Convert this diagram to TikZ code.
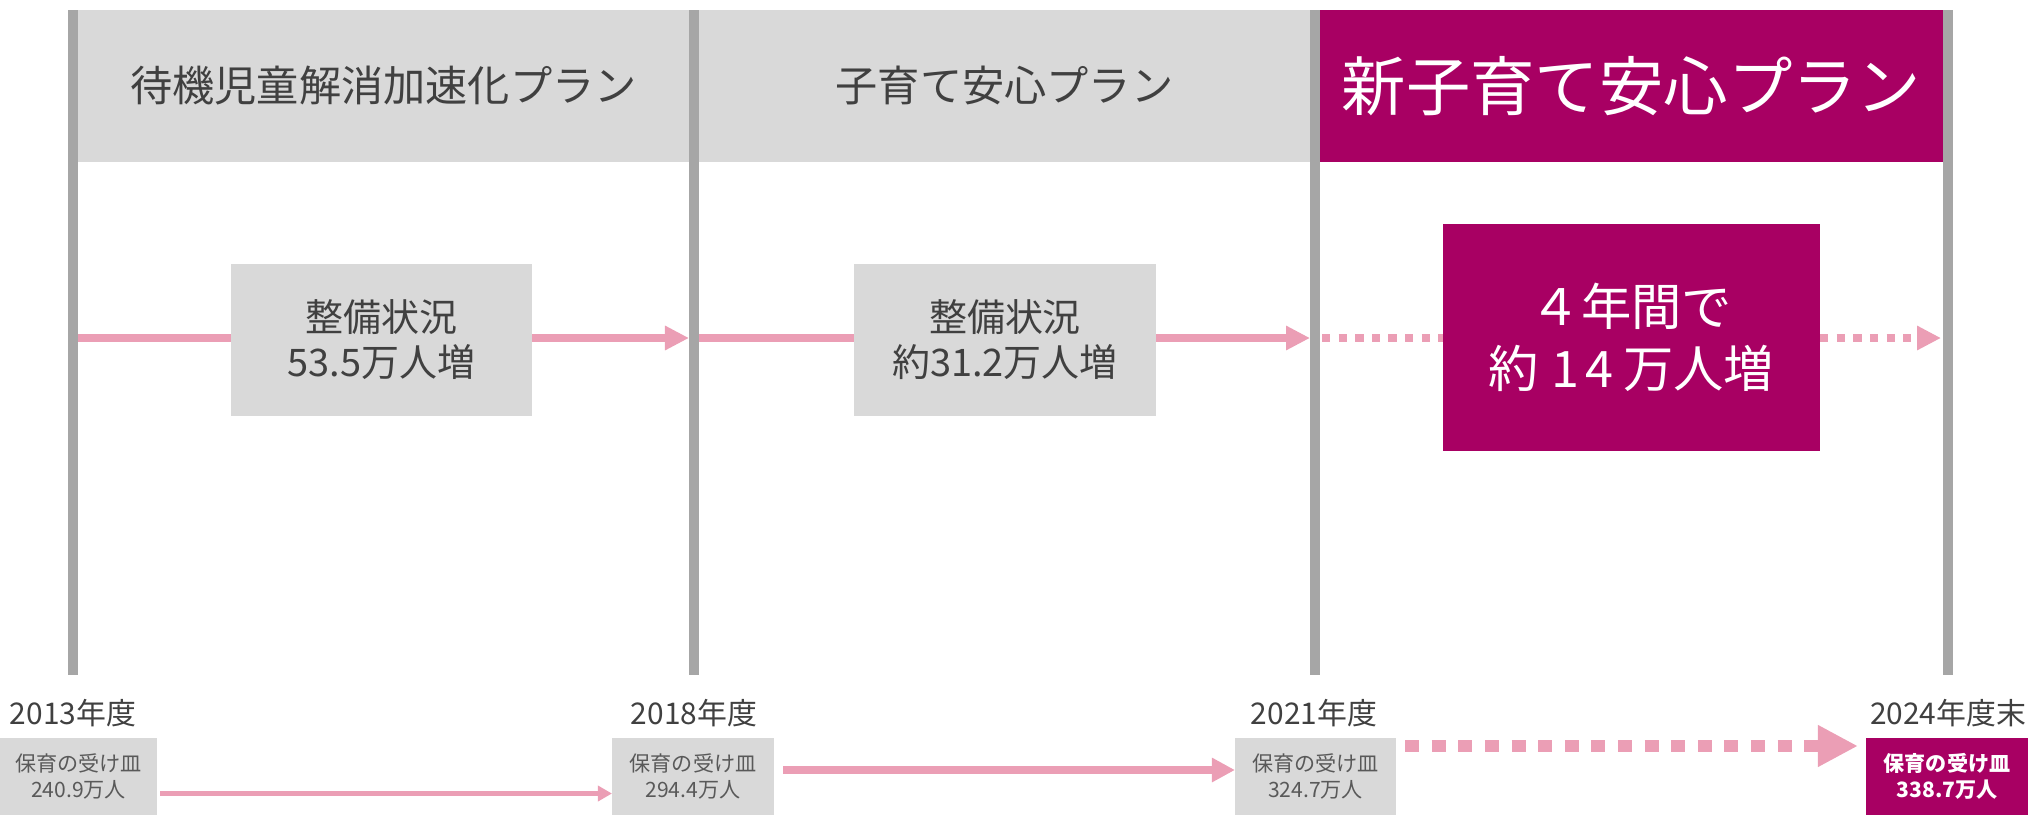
\documentclass[tikz,border=0pt]{standalone}
\usepackage{fontspec}
\newfontfamily\jp{Noto Sans CJK JP}
\usetikzlibrary{positioning,arrows.meta}
\definecolor{ccqqww}{rgb}{0.66,0,0.39}
\definecolor{ffcccc}{rgb}{0.92,0.62,0.71}
\definecolor{dcdcdc}{rgb}{0.85,0.85,0.85}
\definecolor{aaaaaa}{rgb}{0.65,0.65,0.65}
\definecolor{sqsqsq}{rgb}{0.25,0.25,0.25}
\definecolor{wqwqwq}{rgb}{0.35,0.35,0.35}

\begin{document}
\begin{tikzpicture}[x=0.01cm,y=-0.01cm,
    greybox/.style={fill=dcdcdc,inner sep=0pt,outer sep=0pt,align=center,text=sqsqsq},
    plumbox/.style={fill=ccqqww,inner sep=0pt,outer sep=0pt,align=center,text=white},
    rule/.style={line width=0.1cm,color=aaaaaa},
    pinkline/.style={color=ffcccc}]
    \useasboundingbox (0,0) rectangle (2033,815);
    % plan headers
    \node[greybox,minimum width=6.21cm,minimum height=1.52cm,font=\jp\fontsize{12}{14}\selectfont] (plan1) at (383.5,86) {待機児童解消加速化プラン};
    \node[greybox,minimum width=6.21cm,minimum height=1.52cm,font=\jp\fontsize{12}{14}\selectfont] (plan2) at (1004.5,86) {子育て安心プラン};
    \node[plumbox,minimum width=6.33cm,minimum height=1.52cm,font=\jp\fontsize{18.3}{20}\selectfont] (plan3) at (1631.5,86) {新子育て安心プラン};
    % time rules
    \draw[rule] (73,10) -- (73,675);
    \draw[rule] (694,10) -- (694,675);
    \draw[rule] (1315,10) -- (1315,675);
    \draw[rule] (1948,10) -- (1948,675);
    \coordinate (r1) at (78,338);
    \coordinate (r2) at (689,338);
    \coordinate (r2b) at (699,338);
    \coordinate (r3) at (1310,338);
    \coordinate (r3b) at (1322,338);
    \coordinate (r4) at (1941,338);
    % increases per plan
    \node[greybox,minimum width=3.01cm,minimum height=1.52cm,font=\jp\fontsize{10.8}{12.8}\selectfont] (inc1) at (381.5,340) {整備状況\\53.5万人増};
    \node[greybox,minimum width=3.02cm,minimum height=1.52cm,font=\jp\fontsize{10.8}{12.8}\selectfont] (inc2) at (1005,340) {整備状況\\約31.2万人増};
    \node[plumbox,minimum width=3.77cm,minimum height=2.27cm,font=\jp\fontsize{14.3}{17.6}\selectfont] (inc3) at (1631.5,337.5) {４年間で\\約\hspace{0.25em}1\hspace{0.12em}4\hspace{0.2em}万人増};
    \draw[pinkline,line width=0.08cm] (r1) -- (inc1.west |- r1);
    \draw[pinkline,line width=0.08cm,-{Triangle[length=0.24cm,width=0.23cm]}] (inc1.east |- r1) -- (r2);
    \draw[pinkline,line width=0.08cm] (r2b) -- (inc2.west |- r2b);
    \draw[pinkline,line width=0.08cm,-{Triangle[length=0.24cm,width=0.23cm]}] (inc2.east |- r2b) -- (r3);
    \draw[pinkline,line width=0.08cm,dash pattern=on 0.083cm off 0.083cm] (r3b) -- (inc3.west |- r3b);
    \draw[pinkline,line width=0.08cm,dash pattern=on 0.083cm off 0.083cm,-{Triangle[length=0.24cm,width=0.23cm]}] (inc3.east |- r3b) -- (r4);
    % years and capacity
    \begin{scriptsize}
        \node[text=sqsqsq,font=\jp\fontsize{8.5}{10}\selectfont] (yr13) at (73,713) {2013年度};
        \node[text=sqsqsq,font=\jp\fontsize{8.5}{10}\selectfont] (yr18) at (694,713) {2018年度};
        \node[text=sqsqsq,font=\jp\fontsize{8.5}{10}\selectfont] (yr21) at (1314,713) {2021年度};
        \node[text=sqsqsq,font=\jp\fontsize{8.5}{10}\selectfont] (yr24) at (1948,713) {2024年度末};
        \node[greybox,text=wqwqwq,minimum width=1.57cm,minimum height=0.77cm,font=\jp\fontsize{6}{7.4}\selectfont] (cap13) at (78.5,776.5) {保育の受け皿\\240.9万人};
        \node[greybox,text=wqwqwq,minimum width=1.62cm,minimum height=0.77cm,font=\jp\fontsize{6}{7.4}\selectfont] (cap18) at (693,776.5) {保育の受け皿\\294.4万人};
        \node[greybox,text=wqwqwq,minimum width=1.61cm,minimum height=0.77cm,font=\jp\fontsize{6}{7.4}\selectfont] (cap21) at (1315.5,776.5) {保育の受け皿\\324.7万人};
        \node[plumbox,minimum width=1.62cm,minimum height=0.77cm,font=\jp\bfseries\fontsize{6}{7.4}\selectfont] (cap24) at (1947,776.5) {保育の受け皿\\338.7万人};
    \end{scriptsize}
    \draw[pinkline,line width=0.05cm,-{Triangle[length=0.14cm,width=0.15cm]}] ([xshift=0.03cm,yshift=-0.17cm]cap13.east) -- ([yshift=-0.17cm]cap18.west);
    \draw[pinkline,line width=0.08cm,-{Triangle[length=0.23cm,width=0.23cm]}] ([xshift=0.09cm,yshift=0.065cm]cap18.east) -- ([yshift=0.065cm]cap21.west);
    \draw[pinkline,line width=0.12cm,dash pattern=on 0.14cm off 0.126cm,-{Triangle[length=0.4cm,width=0.39cm]}] ([xshift=0.09cm,yshift=0.305cm]cap21.east) -- ([xshift=-0.08cm,yshift=0.305cm]cap24.west);
\end{tikzpicture}
\end{document}
